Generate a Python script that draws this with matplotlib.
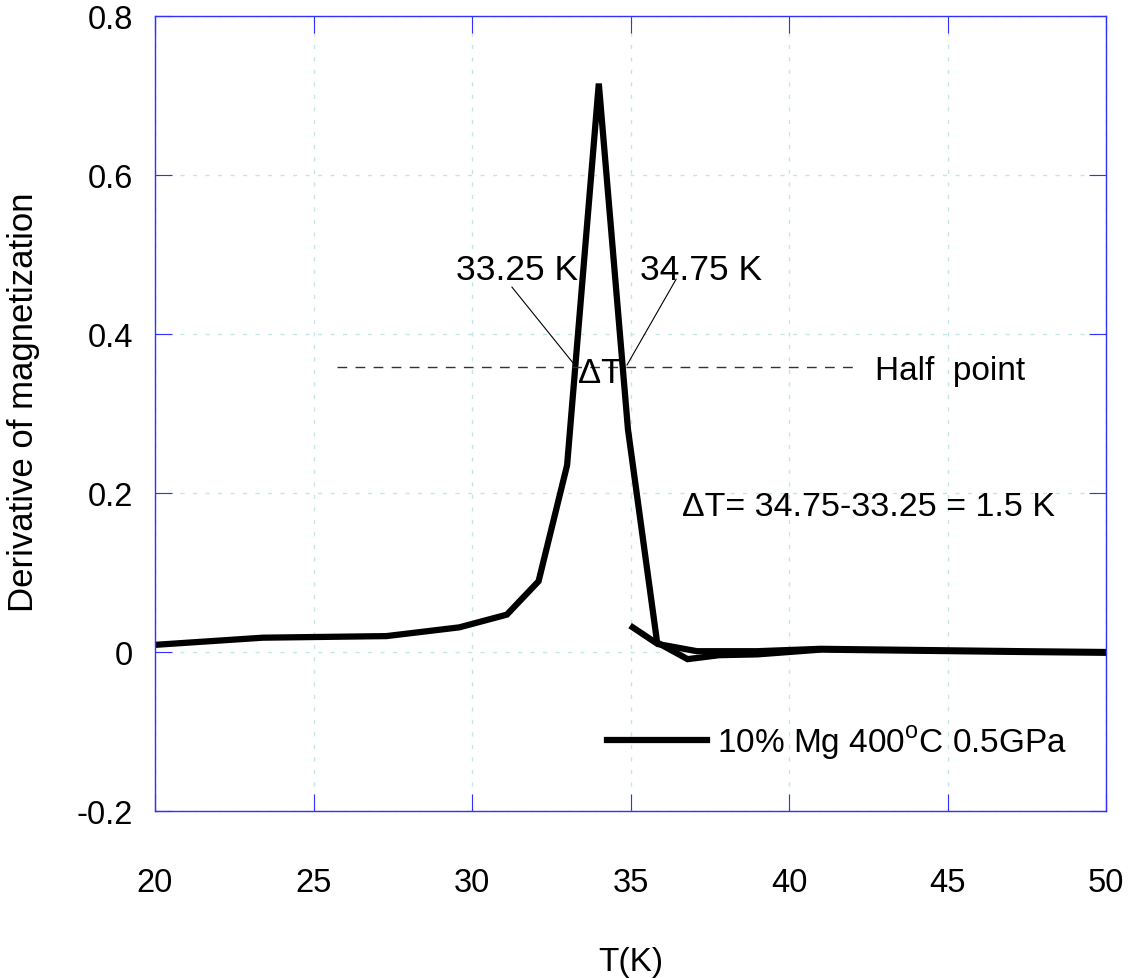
import matplotlib
matplotlib.use("Agg")
import matplotlib.pyplot as plt
from matplotlib.lines import Line2D

plt.rcParams["font.family"] = ["Liberation Sans", "DejaVu Sans"]
plt.rcParams["mathtext.fontset"] = "custom"
plt.rcParams["mathtext.rm"] = "Liberation Sans"

# main sweep
temp_a = [20.0, 23.4, 27.3, 29.6, 31.1, 32.1, 33.0, 34.0, 34.92, 35.84, 36.8, 37.8, 39.0, 41.0, 47.4, 50.0]
deriv_a = [0.009, 0.018, 0.020, 0.031, 0.047, 0.089, 0.235, 0.715, 0.280, 0.012, -0.009, -0.004, -0.003, 0.003, 0.000, -0.001]

# second branch above Tc
temp_b = [35.07, 35.86, 37.1, 39.0, 41.0, 47.4, 50.0]
deriv_b = [0.031, 0.010, 0.001, 0.001, 0.004, 0.001, 0.000]

half_level = 0.3585
t_low, t_high = 33.25, 34.75
legend_label = r"10% Mg 400$^{\mathrm{o}}$C 0.5GPa"

fig = plt.figure(figsize=(11.37, 9.79), dpi=100)
ax = fig.add_axes([155 / 1137, (979 - 812) / 979, 951 / 1137, 795 / 979])

ax.plot(temp_a, deriv_a, color="black", lw=4.5, solid_joinstyle="miter")
ax.plot(temp_b, deriv_b, color="black", lw=4.5, solid_joinstyle="miter")

# half-maximum line and labels
ax.plot([25.74, 42.18], [half_level, half_level], color="#333333", lw=1,
        dashes=(7, 6))
ax.plot([31.26, 33.22], [0.459, 0.362], color="black", lw=0.8)
ax.plot([36.44, 34.89], [0.469, 0.361], color="black", lw=0.8)

ax.text(33.34, 0.469, f"{t_low} K", fontsize=25.5, ha="right", va="baseline")
ax.text(35.30, 0.469, f"{t_high} K", fontsize=25.5, ha="left", va="baseline")
ax.text(34.04, 0.340, "\u0394T", fontsize=25, ha="center", va="baseline")
ax.text(42.71, 0.343, "Half  point", fontsize=24, ha="left", va="baseline")
ax.text(36.62, 0.172, f"\u0394T= {t_high}-{t_low} = {t_high - t_low} K",
        fontsize=24.5, ha="left", va="baseline")

handle = Line2D([], [], color="black", lw=4.5)
ax.legend([handle], [legend_label], loc="center left",
          bbox_to_anchor=(34.26, -0.113), bbox_transform=ax.transData,
          frameon=False, fontsize=24, handlelength=3.0, handletextpad=0.3,
          borderpad=0, borderaxespad=0)

ax.set_xlim(20, 50)
ax.set_ylim(-0.2, 0.8)
ax.set_xticks([20, 25, 30, 35, 40, 45, 50])
ax.set_yticks([-0.2, 0, 0.2, 0.4, 0.6, 0.8])
ax.set_yticklabels(["-0.2", "0", "0.2", "0.4", "0.6", "0.8"])

ax.grid(True, color="#c4e6e6", lw=1, dashes=(3, 6))
for side in ax.spines.values():
    side.set_color("#3030ff")
    side.set_linewidth(1)

ax.tick_params(axis="both", direction="in", length=12, color="#3030ff",
               top=True, right=True, labelsize=23.5)
ax.tick_params(axis="x", pad=40.5)
ax.tick_params(axis="y", pad=16)

ax.set_xlabel("T(K)", fontsize=24)
ax.xaxis.set_label_coords(0.5, -0.17)
ax.set_ylabel("Derivative of magnetization", fontsize=25)
ax.yaxis.set_label_coords(-0.121, 0.515)

fig.savefig("out.png", dpi=100)
